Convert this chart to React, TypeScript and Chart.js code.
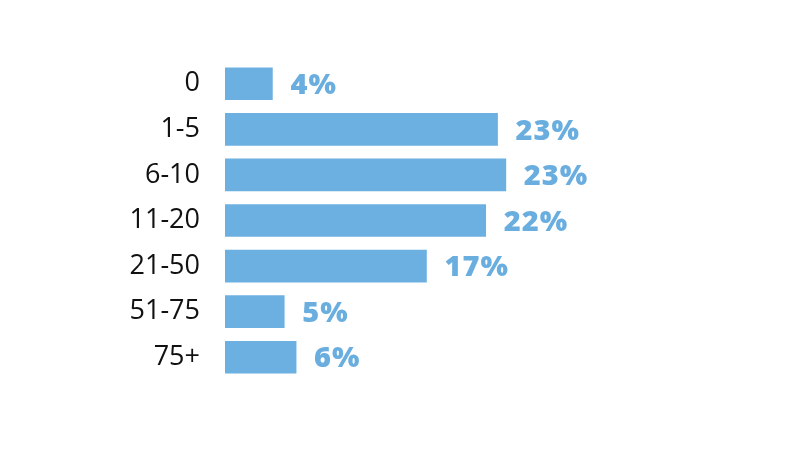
import React, { useEffect, useRef } from "react";
import { Chart, registerables } from "chart.js";

Chart.register(...registerables);

const categories = ["0", "1-5", "6-10", "11-20", "21-50", "51-75", "75+"];
const values = [4, 23, 23.7, 22, 17, 5, 6];
const valueLabels = ["4%", "23%", "23%", "22%", "17%", "5%", "6%"];

const BAR_COLOR = "#6cb0e1";
const LABEL_COLOR = "#6aaee0";

const valueLabelPlugin = {
  id: "valueLabels",
  afterDatasetsDraw(chart: any) {
    const { ctx } = chart;
    const meta = chart.getDatasetMeta(0);
    ctx.save();
    ctx.font = "800 29px 'Open Sans'";
    try {
      (ctx as any).letterSpacing = "1px";
    } catch (e) {}
    ctx.fillStyle = LABEL_COLOR;
    ctx.textAlign = "left";
    ctx.textBaseline = "middle";
    meta.data.forEach((bar: any, i: number) => {
      ctx.fillText(valueLabels[i], bar.x + 18, bar.y + 2);
    });
    ctx.restore();
  },
};

export default function App() {
  const ref = useRef<HTMLCanvasElement | null>(null);
  useEffect(() => {
    document.body.style.margin = "0";
    const chart = new Chart(ref.current as HTMLCanvasElement, {
      type: "bar",
      data: {
        labels: categories,
        datasets: [
          {
            data: values,
            backgroundColor: BAR_COLOR,
            borderWidth: 0,
            barThickness: 32,
          },
        ],
      },
      options: {
        indexAxis: "y",
        animation: false,
        responsive: false,
        maintainAspectRatio: false,
        layout: { padding: { top: 61, bottom: 72, left: 0, right: 101 } },
        plugins: { legend: { display: false }, tooltip: { enabled: false } },
        scales: {
          x: { display: false, min: 0, max: 40 },
          y: {
            afterFit(scale: any) {
              scale.width = 225;
            },
            grid: { display: false, drawTicks: false },
            border: { display: false },
            ticks: {
              color: "#111111",
              padding: 25,
              font: { family: "'Open Sans'", size: 27 },
            },
          },
        },
      },
      plugins: [valueLabelPlugin],
    });
    return () => chart.destroy();
  }, []);
  return (
    <div style={{ position: "absolute", left: 0, top: 0, width: 800, height: 452, background: "#fff" }}>
      <canvas ref={ref} width={800} height={452} style={{ width: 800, height: 452 }} />
    </div>
  );
}
